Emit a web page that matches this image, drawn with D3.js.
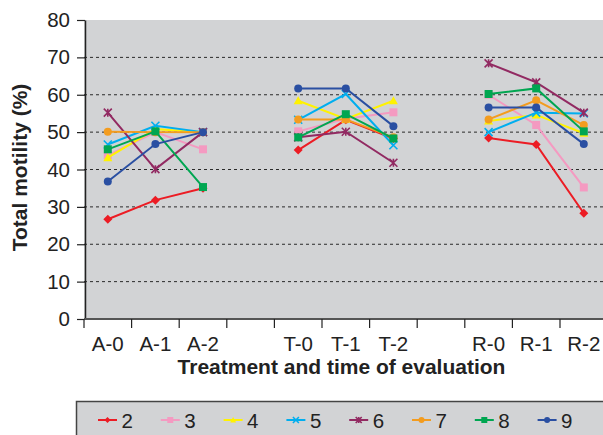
<!DOCTYPE html>
<html><head><meta charset="utf-8">
<script src="https://cdn.jsdelivr.net/npm/d3@7"></script>
<style>body{margin:0;background:#fff}svg{display:block}text{font-family:Arial,"Liberation Sans",Helvetica,sans-serif}</style>
</head><body>
<svg id="c" width="603" height="435"></svg>
<script>
const categories = ["A-0","A-1","A-2","T-0","T-1","T-2","R-0","R-1","R-2"];
const groups = [["A-0","A-1","A-2"],["T-0","T-1","T-2"],["R-0","R-1","R-2"]];
const slots = ["A-0","A-1","A-2","gap1","T-0","T-1","T-2","gap2","R-0","R-1","R-2"];
const seriesNames = ["2","3","4","5","6","7","8","9"];
const s2 = [26.7, 31.8, 35.0, 45.2, 53.3, 48.3, 48.4, 46.7, 28.3];
const s3 = [43.8, 50.0, 45.4, 50.2, 53.6, 55.3, 60.0, 51.9, 35.2];
const s4 = [43.2, 50.8, 50.0, 58.4, 53.5, 58.4, 53.0, 54.6, 49.7];
const s5 = [46.7, 51.7, 50.0, 53.3, 60.2, 46.5, 50.0, 55.2, 55.0];
const s6 = [55.2, 40.1, 50.0, 48.6, 50.1, 41.8, 68.4, 63.3, 55.2];
const s7 = [50.1, 50.0, 50.0, 53.4, 53.4, 48.6, 53.4, 58.5, 51.9];
const s8 = [45.4, 50.2, 35.3, 48.6, 54.8, 48.3, 60.2, 61.7, 50.2];
const s9 = [36.8, 46.8, 50.0, 61.7, 61.7, 51.6, 56.6, 56.6, 46.8];
const yTicks = [0,10,20,30,40,50,60,70,80];

const values = [s2,s3,s4,s5,s6,s7,s8,s9];
const colors = ["#ec1c24","#f49ac1","#fff200","#00aeef","#922a62","#f39c1f","#00a651","#2a4fa2"];
const shapes = ["diamond","square","triangle","cross","asterisk","circle","square","circle"];

const svg = d3.select("#c");
const L = 84, R = 607.6, T = 20, B = 319;
const x = d3.scaleBand().domain(slots).range([L, R]).padding(0);
const y = d3.scaleLinear().domain([0, 80]).range([B, T]);

// background
svg.append("rect").attr("x", L).attr("y", T).attr("width", 603 - L).attr("height", B - T).attr("fill", "#d2d3d5");
// gridlines
svg.append("g").selectAll("line").data(yTicks.filter(v => v > 0 && v < 80)).join("line")
  .attr("x1", L).attr("x2", 603).attr("y1", d => y(d)).attr("y2", d => y(d))
  .attr("stroke", "#2a2a2a").attr("stroke-width", 1).attr("stroke-dasharray", "3,3");

// y axis
const ya = svg.append("g").attr("transform", `translate(${L + 1},0)`)
  .call(d3.axisLeft(y).tickValues(yTicks).tickSize(8).tickPadding(7).tickSizeOuter(0));
ya.select(".domain").attr("stroke", "#222").attr("stroke-width", 1.5);
ya.selectAll(".tick line").attr("stroke", "#222").attr("stroke-width", 1.2);
ya.selectAll("text").attr("font-size", 20.5).attr("fill", "#222").style("font-family", "Arial,'Liberation Sans',sans-serif");

// x axis line + ticks at band boundaries
svg.append("line").attr("x1", L).attr("x2", 603).attr("y1", B).attr("y2", B).attr("stroke", "#555").attr("stroke-width", 2);
svg.append("g").selectAll("line").data(slots).join("line")
  .attr("x1", d => x(d)).attr("x2", d => x(d)).attr("y1", B).attr("y2", B + 9)
  .attr("stroke", "#222").attr("stroke-width", 1.2);
svg.append("g").selectAll("text").data(categories).join("text")
  .attr("x", d => x(d) + x.bandwidth() / 2).attr("y", 351)
  .attr("text-anchor", "middle").attr("font-size", 20.5).attr("fill", "#222").text(d => d);

// axis titles
svg.append("text").attr("x", 341.5).attr("y", 374).attr("text-anchor", "middle")
  .attr("font-size", 21).attr("font-weight", "bold").attr("fill", "#222").text("Treatment and time of evaluation");
svg.append("text").attr("transform", "translate(26.5,167.5) rotate(-90)").attr("text-anchor", "middle")
  .attr("font-size", 21).attr("font-weight", "bold").attr("fill", "#222").text("Total motility (%)");

function markerPath(shape, s) {
  const h = s / 2;
  switch (shape) {
    case "diamond": return `M0,${-h}L${h},0L0,${h}L${-h},0Z`;
    case "square": return `M${-h},${-h}H${h}V${h}H${-h}Z`;
    case "triangle": return `M0,${-h}L${h},${h * 0.8}L${-h},${h * 0.8}Z`;
    case "cross": return `M${-h},${-h}L${h},${h}M${-h},${h}L${h},${-h}`;
    case "asterisk": return `M${-h},${-h}L${h},${h}M${-h},${h}L${h},${-h}M0,${-h}V${h}`;
    case "circle": return d3.symbol(d3.symbolCircle, Math.PI * h * h)();
  }
}
function drawMarker(g, shape, color, s) {
  const open = shape === "cross" || shape === "asterisk";
  g.append("path").attr("d", markerPath(shape, s))
    .attr("fill", open ? "none" : color).attr("stroke", color).attr("stroke-width", open ? 1.6 : 0);
}

const line = d3.line().x(d => x(d.c) + x.bandwidth() / 2).y(d => y(d.v));
const plot = svg.append("g");
values.forEach((vals, i) => {
  const pts = categories.map((c, j) => ({ c, v: vals[j] }));
  const sg = plot.append("g");
  groups.forEach(gr => {
    const seg = pts.filter(p => gr.includes(p.c));
    sg.append("path").attr("d", line(seg)).attr("fill", "none").attr("stroke", colors[i]).attr("stroke-width", 2);
  });
  pts.forEach(p => {
    const mg = sg.append("g").attr("transform", `translate(${x(p.c) + x.bandwidth() / 2},${y(p.v)})`);
    drawMarker(mg, shapes[i], colors[i], shapes[i] === "diamond" || shapes[i] === "triangle" ? 9 : 8);
  });
});

// legend
const lg = svg.append("g");
lg.append("rect").attr("x", 76.5).attr("y", 401.5).attr("width", 540).attr("height", 50)
  .attr("fill", "#d2d3d5").attr("stroke", "#444").attr("stroke-width", 1.5);
seriesNames.forEach((n, i) => {
  const gx = 98 + i * 62.8;
  const it = lg.append("g").attr("transform", `translate(${gx},420)`);
  it.append("line").attr("x1", 0).attr("x2", 19).attr("y1", 0).attr("y2", 0).attr("stroke", colors[i]).attr("stroke-width", 2);
  const mg = it.append("g").attr("transform", "translate(9.5,0)");
  drawMarker(mg, shapes[i], colors[i], 6);
  it.append("text").attr("x", 23.5).attr("y", 7.5).attr("font-size", 20.5).attr("fill", "#222").text(n);
});
</script>
</body></html>
